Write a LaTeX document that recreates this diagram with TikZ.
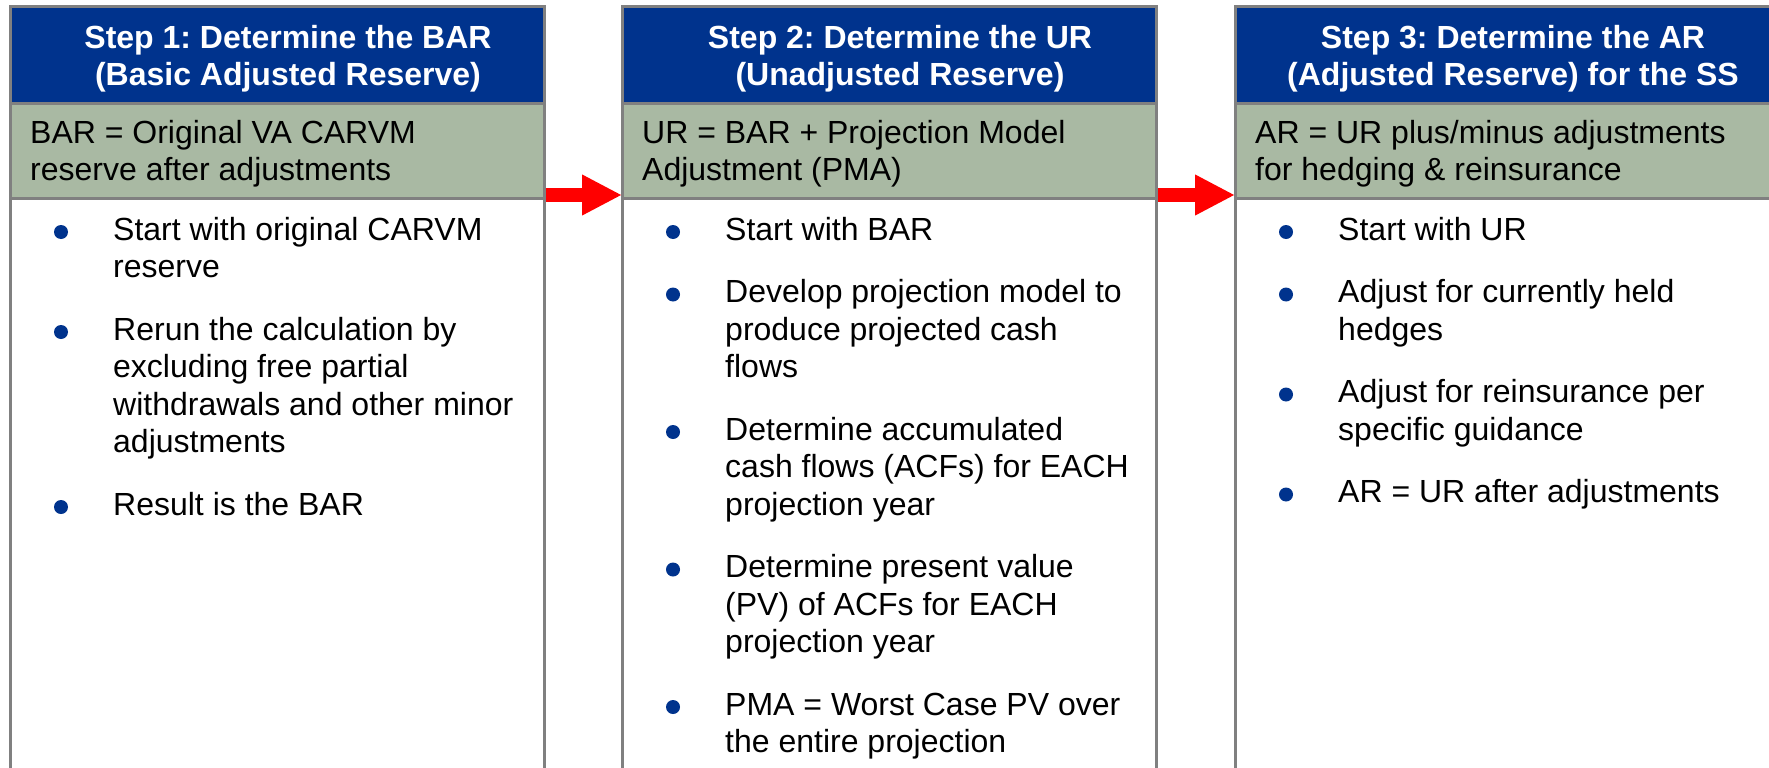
\documentclass[tikz,border=0pt]{standalone}
\usepackage{fontspec}
\setmainfont{Liberation Sans}
\usetikzlibrary{arrows.meta}
\frenchspacing

\definecolor{headblue}{RGB}{0,51,141}
\definecolor{sage}{RGB}{169,185,163}
\definecolor{framegrey}{RGB}{128,128,128}

\tikzset{
  colframe/.style={draw=framegrey, line width=3pt, minimum width=534pt,
    minimum height=793pt, inner sep=0pt, outer sep=0pt},
  headtext/.style={anchor=north, text=white, align=center, inner sep=0pt,
    font=\fontsize{32}{37}\selectfont\bfseries},
  bandtext/.style={anchor=north west, align=left, inner sep=0pt,
    font=\fontsize{32}{37}\selectfont},
  itemtext/.style={anchor=north west, align=left, inner sep=0pt,
    font=\fontsize{32}{37.5}\selectfont},
  dotmark/.style={circle, fill=headblue, minimum size=14pt, inner sep=0pt},
  steparrow/.style={red, line width=14pt, -{Triangle[length=40pt,width=38pt]}}
}

\begin{document}
\begin{tikzpicture}[x=1pt,y=-1pt]
    \useasboundingbox (0,0) rectangle (1769,768);

    % Blue title bands and green summary bands
    \foreach \l/\r in {10/544, 622/1156, 1235/1775} {
        \fill[headblue] (\l,7) rectangle (\r,103);
        \fill[sage] (\l,103) rectangle (\r,198);
    }

    % Grey column frames (running off the bottom of the page)
    \node[colframe] (col1) at (277,403.5) {};
    \node[colframe] (col2) at (889,403.5) {};
    \node[colframe, minimum width=540pt] (col3) at (1505,403.5) {};
    \foreach \l/\r in {10/544, 622/1156, 1235/1775} {
        \draw[framegrey, line width=3pt] (\l,103) -- (\r,103);
        \draw[framegrey, line width=3pt] (\l,198) -- (\r,198);
    }

    % Red arrows from step to step
    \coordinate (arrowrow) at (0,195);
    \draw[steparrow, shorten <=1.5pt] (col1.east |- arrowrow) -- (col2.west |- arrowrow);
    \draw[steparrow, shorten <=1.5pt] (col2.east |- arrowrow) -- (col3.west |- arrowrow);

    % Titles
    \node[headtext] (head1) at (288,22.1) {\strut Step 1: Determine the BAR\\(Basic Adjusted Reserve)};
    \node[headtext] (head2) at (900,22.1) {\strut Step 2: Determine the UR\\(Unadjusted Reserve)};
    \node[headtext] (head3) at (1513,22.1) {\strut Step 3: Determine the AR\\(Adjusted Reserve) for the SS};

    % Summaries
    \node[bandtext] (band1) at (30,117.1) {\strut BAR = Original VA CARVM\\reserve after adjustments};
    \node[bandtext] (band2) at (642,117.1) {\strut UR = BAR + Projection Model\\Adjustment (PMA)};
    \node[bandtext] (band3) at (1255,117.1) {\strut AR = UR plus/minus adjustments\\for hedging \& reinsurance};

    % Bullet lists, y = baseline of the first line
    \foreach \y/\txt [count=\i] in {
        240/{Start with original CARVM\\reserve},
        340/{Rerun the calculation by\\excluding free partial\\withdrawals and other minor\\adjustments},
        515/{Result is the BAR}} {
        \node[dotmark] (dotA\i) at (61,\y-8) {};
        \node[itemtext] (itemA\i) at (113,\y-26.25) {\strut\txt};
    }
    \foreach \y/\txt [count=\i] in {
        240/{Start with BAR},
        302.5/{Develop projection model to\\produce projected cash\\flows},
        440/{Determine accumulated\\cash flows (ACFs) for EACH\\projection year},
        577.5/{Determine present value\\(PV) of ACFs for EACH\\projection year},
        715/{PMA = Worst Case PV over\\the entire projection}} {
        \node[dotmark] (dotB\i) at (673,\y-8) {};
        \node[itemtext] (itemB\i) at (725,\y-26.25) {\strut\txt};
    }
    \foreach \y/\txt [count=\i] in {
        240/{Start with UR},
        302.5/{Adjust for currently held\\hedges},
        402.5/{Adjust for reinsurance per\\specific guidance},
        502.5/{AR = UR after adjustments}} {
        \node[dotmark] (dotC\i) at (1286,\y-8) {};
        \node[itemtext] (itemC\i) at (1338,\y-26.25) {\strut\txt};
    }
\end{tikzpicture}
\end{document}
